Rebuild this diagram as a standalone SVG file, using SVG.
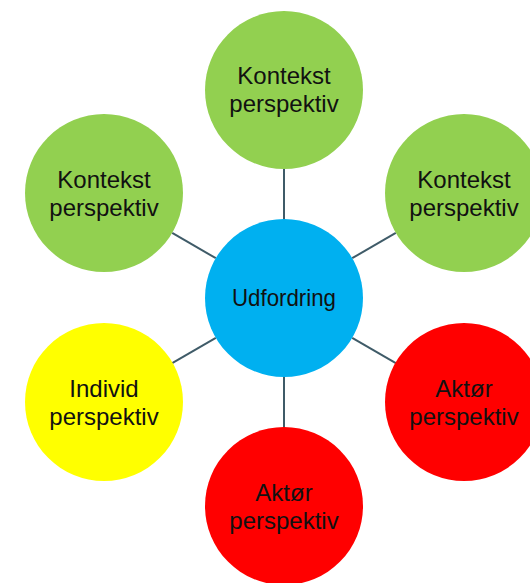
<svg xmlns="http://www.w3.org/2000/svg" width="530" height="583" viewBox="0 0 530 583">
<style>
.green{fill:#92D050}
.blue{fill:#00B0F0}
.yellow{fill:#FFFF00}
.red{fill:#FF0000}
text{font-family:"Liberation Sans",Arial,sans-serif;font-size:24px;fill:#111;text-anchor:middle}
.spoke{stroke:#3F5B68;stroke-width:2;fill:none}
</style>
<rect width="530" height="583" fill="#fff"/>
<g id="connectors">
<line class="spoke" x1="284" y1="219" x2="284" y2="169"/>
<line class="spoke" x1="215.8" y1="258.2" x2="172.2" y2="232.8"/>
<line class="spoke" x1="352.2" y1="258.2" x2="395.8" y2="232.8"/>
<line class="spoke" x1="215.8" y1="337.8" x2="172.2" y2="363.2"/>
<line class="spoke" x1="352.2" y1="337.8" x2="395.8" y2="363.2"/>
<line class="spoke" x1="284" y1="377" x2="284" y2="427"/>
</g>
<g id="center">
<circle class="blue" cx="284" cy="298" r="79"/>
<text x="284" y="306" textLength="104" lengthAdjust="spacingAndGlyphs">Udfordring</text>
</g>
<g id="top">
<circle class="green" cx="284" cy="90" r="79"/>
<text x="284" y="84">Kontekst</text>
<text x="284" y="112">perspektiv</text>
</g>
<g id="topleft">
<circle class="green" cx="104" cy="193" r="79"/>
<text x="104" y="188">Kontekst</text>
<text x="104" y="216">perspektiv</text>
</g>
<g id="topright">
<circle class="green" cx="464" cy="193" r="79"/>
<text x="464" y="188">Kontekst</text>
<text x="464" y="216">perspektiv</text>
</g>
<g id="bottomleft">
<circle class="yellow" cx="104" cy="402" r="79"/>
<text x="104" y="397">Individ</text>
<text x="104" y="425">perspektiv</text>
</g>
<g id="bottomright">
<circle class="red" cx="464" cy="402" r="79"/>
<text x="464" y="397">Aktør</text>
<text x="464" y="425">perspektiv</text>
</g>
<g id="bottom">
<circle class="red" cx="284" cy="506" r="79"/>
<text x="284" y="501">Aktør</text>
<text x="284" y="529">perspektiv</text>
</g>
</svg>
